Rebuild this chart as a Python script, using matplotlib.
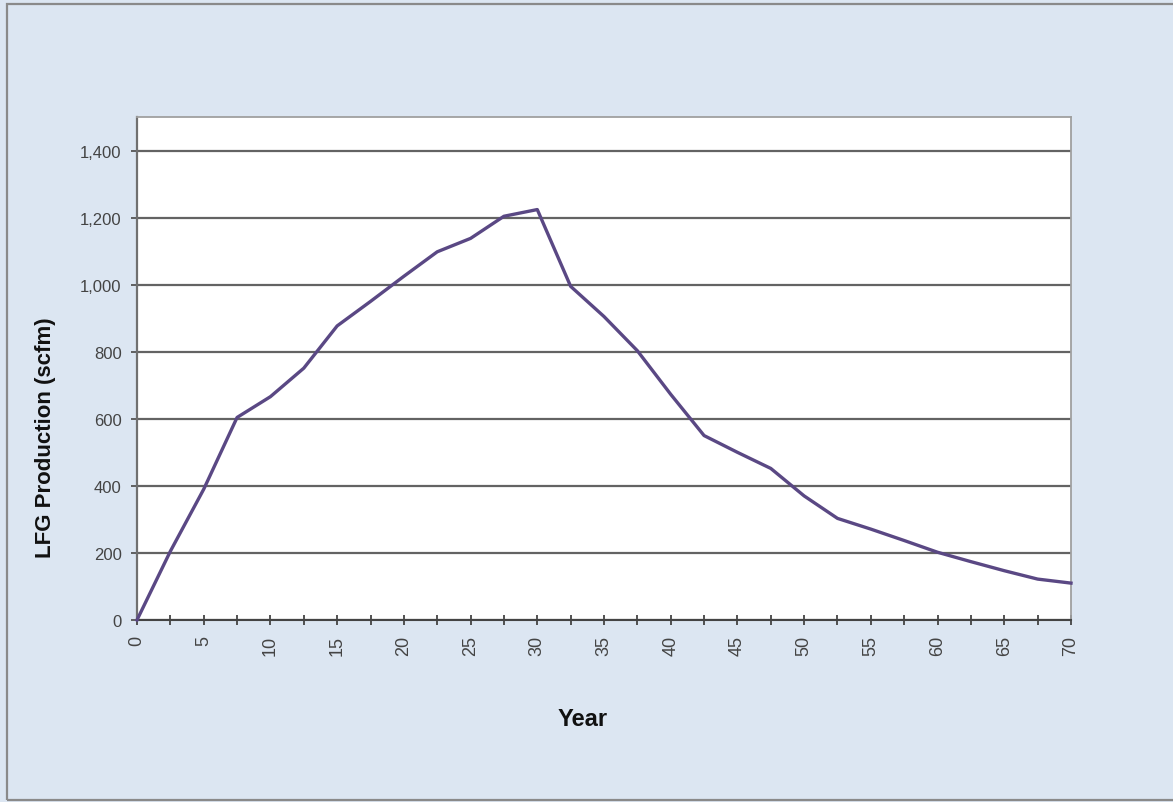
import matplotlib
matplotlib.use("Agg")
import matplotlib.pyplot as plt
from matplotlib.ticker import MultipleLocator, FuncFormatter
from matplotlib.patches import Rectangle

years = [0, 2.5, 5, 7.5, 10, 12.5, 15, 17.5, 20, 22.5, 25, 27.5, 30, 32.5, 35,
         37.5, 40, 42.5, 45, 47.5, 50, 52.5, 55, 57.5, 60, 62.5, 65, 67.5, 70]
lfg_scfm = [0, 205, 390, 604, 666, 751, 877, 950, 1025, 1098, 1138, 1204, 1224, 995, 905,
            803, 673, 550, 500, 452, 370, 303, 271, 237, 202, 174, 147, 122, 110]
x_label = "Year"
y_label = "LFG Production (scfm)"

plt.rcParams['font.family'] = ['Liberation Sans', 'DejaVu Sans']

W, H = 1173, 803
fig = plt.figure(figsize=(W / 100, H / 100), dpi=100)
fig.patch.set_facecolor('#dce6f2')

# outer chart border
fig.patches.append(Rectangle((7 / W, 0.002), 1.2, (H - 4.5) / H - 0.002,
                             transform=fig.transFigure, fill=False,
                             edgecolor='#8a8a8a', linewidth=1.6, zorder=0))

ax = fig.add_axes([137 / W, 1 - 621 / H, (1071 - 137) / W, (621 - 118) / H])
ax.set_facecolor('white')

ax.plot(years, lfg_scfm, color='#5a4884', linewidth=2.4, zorder=3,
        solid_joinstyle='round', clip_on=False)

ax.set_xlim(0, 70)
ax.set_ylim(0, 1500)

ax.yaxis.set_major_locator(MultipleLocator(200))
ax.yaxis.set_major_formatter(FuncFormatter(lambda v, p: f"{int(v):,}"))
ax.xaxis.set_major_locator(MultipleLocator(5))
ax.xaxis.set_minor_locator(MultipleLocator(2.5))

ax.grid(axis='y', which='major', color='#636363', linewidth=1.6, zorder=1)
ax.set_axisbelow(True)

ax.tick_params(axis='y', which='major', direction='out', length=4, width=1.3,
               color='#555555', labelsize=12, labelcolor='#444444', pad=7)
ax.tick_params(axis='x', which='both', direction='inout', length=7.5, width=1.3,
               color='#444444', labelsize=13, labelcolor='#444444', pad=7)

for lbl in ax.get_xticklabels():
    lbl.set_rotation(90)
    lbl.set_va('top')
    lbl.set_ha('center')

for side in ['top', 'right']:
    ax.spines[side].set_color('#a0a0a0')
    ax.spines[side].set_linewidth(1.3)
ax.spines['left'].set_color('#707070')
ax.spines['left'].set_linewidth(1.6)
ax.spines['bottom'].set_color('#444444')
ax.spines['bottom'].set_linewidth(1.5)

ax.set_ylabel(y_label, fontsize=16, fontweight='bold', color='#111111')
ax.yaxis.set_label_coords((46 - 137) / 934, (621 - 438) / 503)
ax.yaxis.label.set_va('center')
ax.set_xlabel(x_label, fontsize=17, fontweight='bold', color='#111111')
ax.xaxis.set_label_coords((583 - 137) / 934, (621 - 720) / 503)
ax.xaxis.label.set_va('center')

fig.savefig('out.png', dpi=100, facecolor=fig.get_facecolor())
